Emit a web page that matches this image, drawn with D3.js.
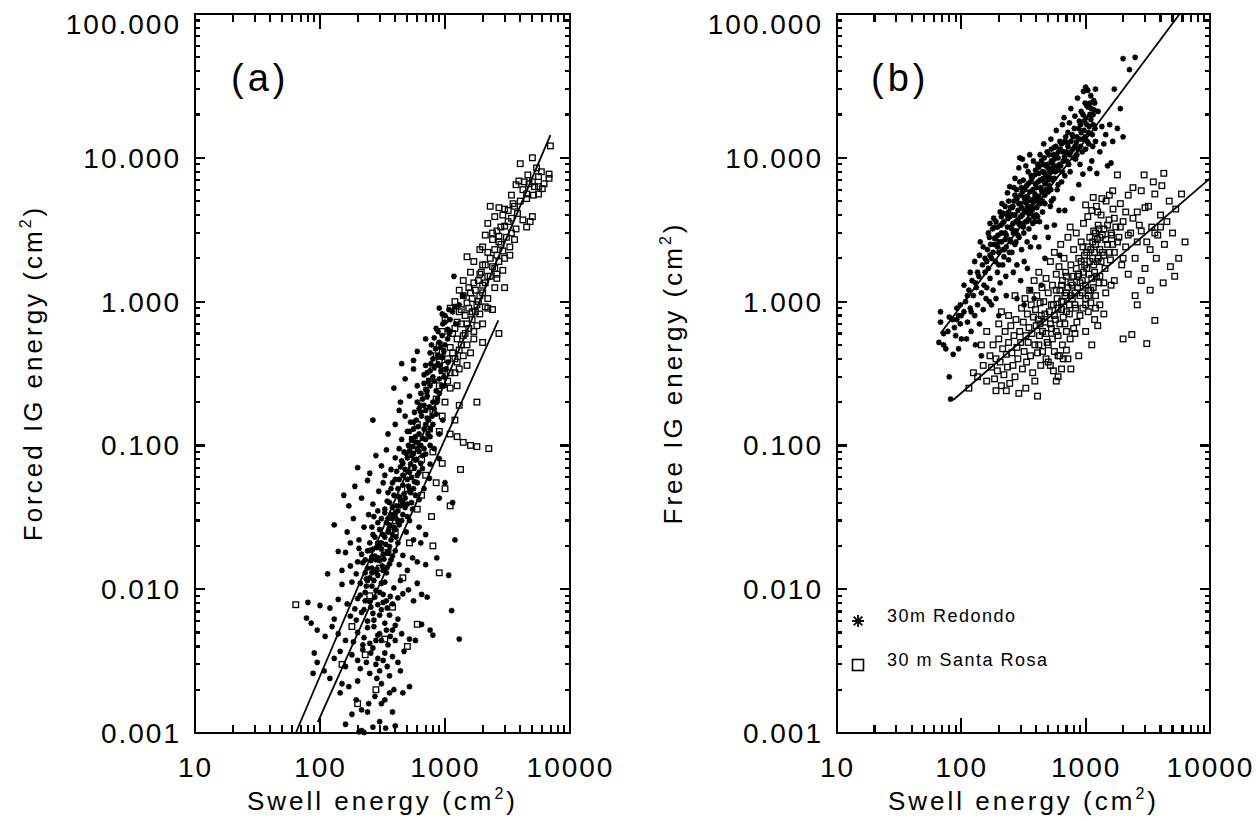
<!DOCTYPE html>
<html>
<head>
<meta charset="utf-8">
<script src="https://cdn.jsdelivr.net/npm/d3@7"></script>
<style>
  body { margin: 0; background: #fff; }
  svg { display: block; }
</style>
</head>
<body>
<svg id="chart" width="1257" height="820"></svg>
<script>
// axis ticks
const xTicks = [10, 100, 1000, 10000];
const yTicks = [0.001, 0.01, 0.1, 1, 10, 100];

// panel (a): forced IG energy vs swell energy
const redondoA = [
  [160,0.00115],[205,0.00102],[215,0.00104],[225,0.00101],[265,0.0011],[300,0.0012],[335,0.00108],[400,0.00112],[180,0.00135],[240,0.0014],[215,0.00145],
  [145,0.0019],[170,0.0021],[195,0.0017],[245,0.0016],[275,0.0018],[310,0.0016],[330,0.0017],[360,0.0019],[390,0.002],[460,0.0019],[200,0.0023],[120,0.0024],[150,0.0022],[285,0.0024],[520,0.0021],
  [88,0.0026],[95,0.0031],[108,0.0027],[130,0.0033],[160,0.0029],[180,0.0035],[210,0.0028],[235,0.0031],[255,0.0036],[280,0.003],[300,0.0027],[320,0.0032],[345,0.0029],[380,0.0034],[420,0.0031],[470,0.0037],[265,0.0039],[220,0.0038],[145,0.0037],[90,0.0036],
  [78,0.0063],[85,0.0058],[95,0.0052],[110,0.0047],[125,0.0055],[140,0.0049],[160,0.0044],[185,0.0043],[200,0.005],[225,0.0046],[250,0.0042],[270,0.0055],[290,0.0048],[310,0.0044],[340,0.0052],[365,0.0047],[400,0.0056],[450,0.0049],[520,0.0045],[580,0.0044],[800,0.0048],[1300,0.0045],[760,0.0052],[650,0.0057],[130,0.0062],[175,0.0065],[215,0.0069],[300,0.0066],[420,0.0062],[240,0.006],
  [80,0.0081],[100,0.0077],[120,0.0074],[140,0.0085],[165,0.0079],[190,0.0073],[210,0.0091],[230,0.0083],[255,0.0075],[275,0.0088],[300,0.0095],[320,0.0081],[345,0.0074],[365,0.0089],[390,0.0102],[420,0.0087],[460,0.0093],[510,0.0099],[560,0.0083],[650,0.0092],[720,0.0088],[1130,0.0071],[260,0.0105],[180,0.0112],[150,0.0108],[235,0.0118],[330,0.0112],[440,0.0115],[600,0.011],[1070,0.0125],
  [230,0.0095],[280,0.0098],[320,0.0092],[200,0.0086],[250,0.0082],[290,0.0078],[340,0.0083],[380,0.0079],[225,0.0072],[265,0.0068],[310,0.0072],[360,0.0066],[195,0.0061],[270,0.0061],[330,0.0058],[380,0.0052],[240,0.0054],[300,0.0049],[350,0.0041],[280,0.0044],[220,0.0041],[400,0.0044],[330,0.0036],[290,0.0033],[250,0.0026],[360,0.0025],[200,0.0032],[440,0.0027],[310,0.0022],[380,0.0014],
  [115,0.0128],[150,0.0135],[175,0.0145],[195,0.0128],[220,0.0153],[240,0.014],[260,0.0168],[280,0.0132],[300,0.0158],[320,0.0175],[345,0.0142],[370,0.016],[400,0.0185],[430,0.0148],[460,0.0172],[500,0.0135],[550,0.0165],[600,0.0155],[700,0.0148],[860,0.0165],[160,0.018],[205,0.0192],[285,0.0195],[360,0.0198],[250,0.0186],[140,0.0183],
  [210,0.011],[235,0.0105],[250,0.012],[270,0.0115],[290,0.0125],[310,0.011],[230,0.013],[260,0.014],[285,0.0138],[315,0.0145],[340,0.013],[200,0.0155],[230,0.016],[255,0.0158],[275,0.017],[295,0.0165],[325,0.0162],[350,0.018],[380,0.017],[215,0.0175],[240,0.0185],[265,0.019],[310,0.019],[335,0.0205],[290,0.021],[250,0.021],[370,0.022],[275,0.023],[320,0.024],[350,0.025],[300,0.026],[390,0.027],[260,0.027],[340,0.029],[420,0.03],[310,0.031],[370,0.033],[290,0.035],
  [130,0.028],[165,0.025],[185,0.031],[205,0.022],[225,0.027],[245,0.033],[265,0.024],[290,0.029],[310,0.021],[330,0.034],[355,0.026],[380,0.031],[405,0.023],[430,0.028],[460,0.033],[490,0.025],[520,0.03],[560,0.022],[620,0.027],[700,0.024],[1200,0.022],[640,0.021],[175,0.021],[270,0.032],[400,0.034],
  [300,0.02],[330,0.023],[360,0.028],[380,0.024],[400,0.026],[420,0.035],[440,0.038],[460,0.04],[480,0.043],[520,0.048],[560,0.05],[600,0.055],[620,0.065],[640,0.075],[660,0.085],[680,0.095],[700,0.11],[730,0.12],[760,0.13],[790,0.16],[820,0.18],[860,0.2],[900,0.23],[940,0.26],[980,0.3],[1020,0.34],[900,0.36],[980,0.45],[1050,0.55],[1100,0.62],[280,0.016],[260,0.013],[240,0.0115],[320,0.0135],[360,0.015],[420,0.021],[500,0.032],[540,0.04],[580,0.045],[760,0.1],
  [155,0.045],[170,0.038],[190,0.052],[215,0.043],[240,0.057],[265,0.039],[295,0.048],[320,0.055],[345,0.041],[370,0.05],[400,0.058],[430,0.044],[460,0.053],[500,0.039],[530,0.047],[570,0.056],[620,0.042],[680,0.05],[900,0.043],[1150,0.04],[1000,0.055],[380,0.037],[550,0.036],[750,0.059],
  [350,0.031],[400,0.032],[450,0.03],[330,0.036],[360,0.04],[410,0.038],[440,0.042],[480,0.037],[350,0.047],[390,0.045],[420,0.05],[470,0.046],[510,0.052],[380,0.055],[430,0.058],[460,0.062],[500,0.058],[540,0.06],[410,0.066],[440,0.071],[480,0.068],[530,0.074],[570,0.07],[450,0.078],[500,0.082],[540,0.085],[590,0.08],[470,0.09],[520,0.092],[560,0.088],[600,0.095],[640,0.1],[510,0.1],[580,0.105],
  [200,0.07],[250,0.064],[280,0.085],[310,0.072],[340,0.093],[370,0.068],[400,0.082],[430,0.095],[460,0.075],[490,0.088],[520,0.065],[550,0.098],[580,0.079],[620,0.091],[660,0.069],[700,0.087],[760,0.074],[820,0.095],[900,0.081],[330,0.062],[600,0.062],
  [265,0.15],[350,0.12],[400,0.14],[450,0.11],[480,0.16],[520,0.125],[560,0.145],[600,0.105],[640,0.17],[680,0.13],[720,0.155],[760,0.115],[800,0.14],[850,0.165],[900,0.12],[960,0.15],[430,0.175],[700,0.175],
  [540,0.11],[580,0.115],[620,0.12],[660,0.112],[500,0.125],[560,0.13],[610,0.135],[700,0.14],[530,0.145],[590,0.15],[650,0.16],[740,0.15],[570,0.17],[620,0.18],[680,0.19],[750,0.185],[600,0.2],[660,0.21],[720,0.22],[800,0.2],[640,0.23],[700,0.245],[760,0.26],[850,0.24],[680,0.27],[740,0.28],[800,0.3],[900,0.29],[720,0.32],
  [390,0.25],[440,0.2],[480,0.29],[520,0.22],[560,0.34],[600,0.26],[640,0.19],[680,0.31],[720,0.24],[770,0.37],[820,0.28],[870,0.21],[930,0.33],[990,0.26],[1060,0.38],[560,0.39],[450,0.37],
  [760,0.33],[820,0.35],[880,0.37],[700,0.36],[800,0.4],[870,0.42],[950,0.41],[760,0.44],[840,0.47],[900,0.52],[1000,0.5],[820,0.56],[950,0.58],[880,0.62],[1050,0.64],[960,0.7],[1100,0.75],[1000,0.8],[1080,0.88],[950,0.82],[1200,0.92],
  [600,0.45],[700,0.55],[780,0.5],[850,0.65],[920,0.48],[1000,0.72],[1080,0.6],[1150,0.85],[1220,0.7],[900,0.9],[1300,0.95],[1180,1.5],[1400,1.1]
];
const santaRosaA = [
  [6970,12.1],[5000,10],[4000,9.1],[5400,8.5],[6800,7.7],[6800,7.2],[5600,7.4],[3900,6.9],[4300,6.8],[4700,6.6],[5200,6.3],[5600,6.3],[6000,6.1],[3700,6.5],
  [5600,5.6],[4500,5.6],[5100,5.5],[2300,4.6],[2700,4.5],[3200,4.3],[3600,4.6],[2500,3.9],[2900,4.0],[3400,3.8],[4200,3.7],[4800,3.6],[4500,3.3],[3700,3.2],[2600,3.1],[3000,3.35],[2200,3.5],[5000,3.9],
  [2100,2.9],[2400,2.7],[2800,2.5],[3300,2.4],[1900,2.3],[2200,2.2],[2600,2.1],[3000,2.0],[1700,1.9],[2000,1.8],[2400,1.75],[2900,1.65],[3300,2.1],[1600,1.6],[1900,1.55],[2200,1.5],[1500,2.05],[2700,2.85],
  [1400,1.4],[1700,1.35],[2000,1.3],[2500,1.25],[1300,1.2],[1600,1.15],[1900,1.1],[2200,1.05],[2600,1.45],[1200,1.0],[1500,0.98],[1800,0.95],[2100,0.92],[1350,0.88],[1650,0.85],[2400,0.88],[1100,0.9],[1900,0.82],[2700,0.6],
  [1000,0.75],[1250,0.72],[1500,0.7],[1800,0.68],[950,0.62],[1150,0.6],[1400,0.58],[1700,0.55],[2000,0.52],[900,0.5],[1100,0.48],[1300,0.46],[1600,0.44],[850,0.42],[1050,0.4],[1250,0.38],[1500,0.36],[800,0.35],[950,0.33],[1200,0.32],[1800,0.2],
  [1100,0.32],[1300,0.34],[1000,0.36],[1200,0.4],[1400,0.42],[1150,0.44],[1350,0.5],[1250,0.55],[1450,0.6],[1550,0.65],[1350,0.7],[1650,0.75],[1450,0.8],[1750,0.85],[1550,0.9],[1850,1.0],[1650,1.05],[1400,1.1],[2000,1.15],[1750,1.2],[1550,1.25],[2100,1.35],[1850,1.4],[2300,1.5],[1950,1.6],[2500,1.7],[2100,1.8],[2700,1.9],[2300,2.0],[2000,2.4],[2500,2.3],[2900,2.25],[2700,2.6],[3100,2.8],[2400,3.0],[3400,3.0],[2800,3.3],[3200,3.6],[3800,4.1],[3000,4.4],[3500,4.8],[4000,5.0],[4500,5.2],[3400,5.5],[4200,6.0],[5000,6.8],[4600,7.6],[6200,6.6],[5900,8.0],[3000,1.25],[2600,1.55],[3600,2.7],[1250,0.26],[1050,0.28],[1500,0.5],[950,0.45],[1700,0.62],[2000,0.7],[2200,0.9],[1300,0.85],[1200,0.65],[900,0.38],
  [750,0.28],[900,0.26],[1100,0.25],[700,0.22],[850,0.21],[1000,0.2],[1300,0.19],[650,0.18],[800,0.17],[950,0.16],[1200,0.15],[600,0.14],[750,0.13],[900,0.125],[1100,0.12],[1400,0.105],[1600,0.1],[1800,0.098],[2240,0.095],[1250,0.115],[550,0.11],
  [1330,0.068],[800,0.09],[650,0.08],[950,0.075],[550,0.07],[700,0.062],[850,0.055],[500,0.05],[650,0.045],[1000,0.05],[450,0.04],[600,0.036],[780,0.032],[400,0.03],[1100,0.038],
  [400,0.025],[520,0.021],[350,0.018],[800,0.02],[300,0.014],[460,0.012],[900,0.013],[250,0.009],[64,0.0078],[380,0.0075],[180,0.0055],[500,0.004],[330,0.0045],[150,0.003],[230,0.0035],[280,0.002],[200,0.0016],[600,0.0057]
];
const fitA1 = [[64,0.001],[6970,14.4]];
const fitA2 = [[96,0.00119],[2670,0.74]];

// panel (b): free IG energy vs swell energy
const redondoB = [
  [68,0.85],[68,0.72],[66,0.52],[72,0.5],[75,0.47],[80,0.3],[82,0.21],[78,0.62],[85,0.75],[88,0.66],[90,0.58],[92,0.9],[95,0.8],[98,0.7],[72,0.6],[86,0.43],[100,0.55],[95,0.47],[80,0.78],[98,0.95],
  [105,0.85],[108,1.0],[112,0.72],[115,1.2],[118,0.9],[120,0.62],[125,1.1],[128,0.8],[130,1.35],[135,0.95],[138,1.5],[140,0.7],[145,1.15],[148,1.8],[150,0.88],[152,1.3],[155,1.6],[158,1.05],[110,0.55],[130,0.5],[145,0.42],[122,1.4],[140,2.1],[160,1.25],
  [162,2.3],[165,1.7],[168,2.8],[170,1.45],[175,2.0],[178,3.2],[180,1.2],[185,2.5],[188,1.9],[190,3.6],[195,1.6],[198,2.9],[200,2.2],[205,1.35],[208,3.4],[210,2.6],[215,1.8],[218,4.1],[220,2.05],[225,3.0],[228,1.5],[230,2.4],[235,5.7],[238,3.8],[240,1.95],[245,2.7],[248,4.5],[250,3.3],[175,0.95],[200,0.8],[190,1.05],[230,1.1],[168,1.0],[212,4.8],[185,2.75],[222,2.3],[244,2.2],[196,2.4],
  [255,2.2],[258,4.0],[262,3.0],[265,5.0],[270,2.5],[275,3.6],[278,6.0],[280,1.8],[285,4.3],[290,8.5],[292,2.8],[295,3.4],[300,5.5],[305,2.3],[310,4.0],[315,7.0],[318,3.0],[320,1.9],[325,5.0],[330,3.6],[335,6.4],[338,2.6],[340,4.6],[345,8.0],[350,3.2],[355,5.8],[360,2.4],[365,4.2],[370,7.2],[375,3.5],[380,9.5],[385,5.2],[390,2.8],[395,6.6],[400,4.0],[262,1.6],[300,1.4],[340,1.7],[280,1.05],[360,1.2],[320,0.95],[385,1.05],[270,7.2],[310,9.8],[330,8.8],[355,10.5],[245,6.3],[295,10],[275,2.6],[350,4.3],[315,3.5],[390,3.6],[305,6.2],
  [150,2.4],[160,1.9],[165,3.0],[172,2.5],[180,2.2],[182,3.8],[190,2.8],[195,3.3],[200,1.8],[205,4.2],[210,3.0],[215,2.3],[220,3.6],[225,4.6],[230,2.9],[235,3.3],[240,5.0],[245,3.9],[250,2.6],[255,4.5],[260,3.5],[265,6.2],[270,4.0],[275,3.1],[280,5.2],[285,3.7],[290,4.8],[295,6.8],[300,3.9],[305,4.5],[310,5.8],[315,3.3],[320,4.3],[325,6.0],[330,4.9],[335,3.6],[340,5.4],[345,6.6],[350,4.1],[360,5.1],[365,7.5],[370,4.6],[375,6.0],[380,3.9],[390,5.6],[395,8.2],[400,6.2],[405,4.5],[415,6.8],[420,5.4],
  [210,3.9],[225,2.7],[240,4.2],[255,3.2],[270,5.5],[285,2.9],[300,4.8],[315,6.0],[330,4.2],[345,5.0],[360,6.8],[375,4.4],[390,7.6],[405,5.4],[420,8.6],[435,6.2],[450,5.0],[465,7.9],[480,6.0],[495,9.0],[510,7.4],[525,6.0],[540,9.2],[560,7.2],[580,10.5],[600,8.2],[625,11.5],[650,8.0],[675,10.2],[700,12.8],[730,9.0],[760,11.0],[790,14.0],[820,12.0],[850,10.5],[880,13.5],[910,17.0],[940,11.0],[970,15.5],[1000,19.0],[1030,13.0],[1070,16.5],[1110,22.0],[1150,20.0],[1190,16.0],[235,4.0],[260,4.6],[290,3.5],[320,5.3],[350,3.7],[380,4.9],[410,3.9],[440,7.0],[470,4.8],[500,5.8],[530,8.0],[170,2.1],[185,3.3],[200,2.6],[215,3.5],
  [430,7.0],[440,9.5],[445,5.8],[455,7.2],[465,10.0],[470,6.6],[480,8.8],[495,7.0],[505,10.5],[515,8.0],[530,11.5],[545,8.5],[560,9.8],[575,12.0],[590,8.8],[605,11.0],[620,9.0],[640,12.5],[660,9.5],[680,13.0],[700,11.0],[720,15.0],[740,10.5],[760,13.0],[790,11.5],[810,16.0],[830,9.8],[850,14.0],[870,11.5],[890,18.0],[920,15.0],[950,20.0],[990,14.0],[1020,17.0],[1060,12.5],[1100,18.5],[1130,14.5],[1160,25.0],[1080,24.0],[990,24.0],
  [128,1.9],[135,1.6],[142,2.6],[118,1.6],[105,1.3],[112,1.1],[100,0.8],[92,0.75],[120,0.85],[132,1.25],[155,2.0],[170,3.5],
  [410,5.0],[420,7.8],[425,3.6],[430,10.5],[440,6.0],[450,4.2],[455,9.0],[460,12.5],[470,5.5],[480,7.5],[485,3.3],[490,11.0],[500,8.5],[510,6.4],[520,4.6],[525,13.5],[530,9.5],[540,7.0],[550,5.2],[560,11.8],[570,8.0],[580,15.5],[590,6.0],[600,10.0],[610,4.3],[620,13.0],[630,8.8],[640,6.8],[650,17.0],[660,11.0],[670,19.0],[680,7.5],[690,14.0],[700,9.5],[420,2.4],[500,2.8],[470,2.0],[440,1.3],[560,3.4],[620,2.1],[430,4.8],[530,5.0],[600,6.5],[680,4.3],[450,8.0],[410,9.0],[550,10.5],
  [720,12.0],[740,17.5],[750,8.0],[760,22.0],[780,14.5],[800,10.0],[820,19.5],[840,12.8],[860,26.0],[880,16.0],[900,9.0],[920,21.0],[940,13.5],[960,29.0],[980,18.0],[1000,31.0],[1000,11.5],[1020,23.0],[1050,15.0],[1080,20.0],[1100,27.0],[1120,9.5],[1150,17.0],[1180,24.0],[1200,13.0],[1230,7.8],[1260,21.0],[1300,11.0],[1080,8.4],[950,7.7],[1140,12.0],[1200,30.0],[880,6.5],[1050,22.5],[780,5.2],[1040,29.5],[1170,21.5],[910,12.0],
  [1350,16.5],[1400,12.5],[1450,14.5],[1500,8.8],[1560,17.0],[1650,13.0],[1700,30.0],[1800,16.0],[2000,49.0],[2500,50.0],[2250,41.0],[2000,14.0],[1900,22.0],[1600,9.2]
];
const santaRosaB = [
  [115,0.25],[125,0.32],[135,0.3],[150,0.36],[160,0.28],[170,0.42],[175,0.35],[180,0.5],[185,0.29],[190,0.4],[195,0.33],[200,0.55],[205,0.38],[210,0.26],[215,0.47],[220,0.31],[225,0.62],[230,0.43],[235,0.35],[240,0.52],[245,0.27],[250,0.68],[160,0.62],[200,0.7],[190,0.24],[230,0.24],[240,0.8],[145,0.5],[210,0.85],
  [255,0.44],[260,0.36],[265,0.58],[270,0.3],[275,0.75],[280,0.48],[285,0.4],[290,0.23],[295,0.62],[300,0.52],[305,0.9],[310,0.34],[315,0.72],[320,0.45],[325,1.05],[330,0.58],[335,0.38],[340,0.82],[345,0.52],[350,0.66],[355,1.2],[360,0.42],[365,0.95],[370,0.6],[375,0.32],[380,0.78],[385,1.4],[390,0.5],[395,0.88],[400,0.68],[405,1.1],[410,0.44],[415,0.75],[420,1.6],[425,0.58],[430,0.98],[435,0.36],[440,0.8],[445,1.25],[450,0.62],[330,0.25],[410,0.22],[390,0.28],[270,1.1],
  [420,0.5],[450,0.45],[480,0.6],[500,0.5],[520,0.7],[540,0.55],[560,0.8],[580,0.62],[600,0.9],[620,0.7],[640,1.0],[660,0.78],[680,1.1],[700,0.85],[720,1.25],[740,0.95],[760,1.35],[780,1.05],[800,1.5],[820,1.15],[840,1.7],[860,1.25],[880,1.55],[900,1.35],[920,1.9],[940,1.15],[960,1.6],[980,2.1],[1000,1.3],[1020,1.7],[1040,2.4],[1060,1.2],[1080,1.9],[1100,2.3],[1120,1.45],[1140,2.6],[1160,1.8],[1180,2.2],[1200,3.0],[1220,1.5],[1240,2.7],[1260,2.0],[1280,3.2],[1300,2.3],[1330,1.9],[1360,2.9],[1400,2.1],[1450,2.7],[1500,3.4],[1550,2.2],[1600,3.0],[1650,2.5],[1700,3.8],[1800,2.6],[1900,3.3],[2000,2.0],[2100,4.2],[2200,2.9],[2400,3.8],[2600,2.6],[2800,3.1],[3000,4.5],[3300,2.3],[3600,3.0],[4000,3.3],
  [500,0.38],[550,0.33],[600,0.42],[650,0.5],[700,0.46],[750,0.55],[800,0.65],[850,0.72],[900,0.8],[950,0.9],[1000,0.95],[1050,1.1],[1100,0.98],[1150,1.25],[1200,1.1],[430,0.7],[470,0.82],[530,0.95],[580,1.2],[640,1.3],[700,1.5],[760,1.1],[830,0.9],[1300,1.5],[1400,1.35],
  [460,1.0],[470,0.72],[480,1.45],[490,0.52],[500,1.15],[510,0.85],[520,1.9],[530,0.65],[540,1.3],[550,0.95],[560,2.2],[570,0.75],[580,1.55],[590,1.05],[600,0.58],[610,1.75],[620,1.2],[630,2.5],[640,0.88],[650,1.4],[660,1.0],[670,2.0],[680,0.7],[690,1.6],[700,1.15],[720,2.8],[740,0.82],[760,1.8],[780,1.3],[800,2.3],[820,0.95],[840,3.0],[860,1.5],[880,2.0],[900,1.1],[480,0.4],[560,0.45],[620,0.42],[640,0.34],[720,0.4],[760,0.34],[880,0.42],[700,0.62],[820,0.6],[750,3.3],[520,0.36],[600,0.3],[660,0.4],[580,0.28],
  [920,2.6],[940,1.4],[960,3.5],[980,1.8],[1000,1.05],[1020,2.2],[1040,3.9],[1060,1.55],[1080,2.8],[1100,1.2],[1120,4.3],[1140,2.0],[1160,3.1],[1180,1.6],[1200,2.5],[1220,4.6],[1240,1.9],[1260,3.4],[1280,1.35],[1300,2.8],[1330,4.0],[1360,2.2],[1400,3.2],[1430,1.7],[1460,5.0],[1500,2.5],[1540,3.7],[1580,1.95],[1620,2.9],[1660,4.4],[1700,2.2],[1750,3.3],[1800,7.6],[1000,0.62],[1050,0.85],[1120,0.5],[1200,0.9],[1300,0.95],[1400,0.82],[1250,0.68],[1180,0.75],[1600,1.3],[1450,1.15],[1700,1.4],[1550,5.5],[1350,5.2],[1650,5.9],[1150,5.3],[1250,4.2],[950,2.4],[1000,4.7],
  [1850,2.8],[1900,4.8],[1950,1.8],[2000,3.6],[2100,2.4],[2200,5.5],[2300,3.0],[2400,6.2],[2500,2.0],[2600,4.2],[2700,3.4],[2800,5.9],[2950,7.6],[3100,2.6],[3200,4.6],[3400,3.3],[3600,5.6],[3800,2.9],[4000,4.0],[4250,7.8],[4500,3.6],[4700,5.0],[5000,3.0],[5300,4.4],[5900,5.6],[6300,2.6],[5600,2.0],[3600,0.74],[2350,0.59],[3100,0.51],[2800,1.4],[3300,1.2],[2500,1.1],[4200,1.35],[4800,1.75],[5200,1.5],[3700,2.0],[3000,1.7],[2200,1.55],[4300,2.5],[4100,6.4],[3500,6.8],[2000,0.55],[2600,0.95]
];
const fitB1 = [[68,0.6],[5700,100]];
const fitB2 = [[86,0.207],[10000,7.2]];

const legendLabels = ["30m Redondo", "30 m Santa Rosa"];

const FONT = "'Liberation Sans', Arial, Helvetica, sans-serif";
const svg = d3.select("#chart");
const plotTop = 14, plotBottom = 733;

// IDL-style asterisk (plus + cross)
const asterisk = (s) => {
  const d = s * 0.72;
  return `M0,${-s}V${s}M${-s},0H${s}M${-d},${-d}L${d},${d}M${-d},${d}L${d},${-d}`;
};
const isDecade = v => Math.abs(Math.log10(v) - Math.round(Math.log10(v))) < 1e-6;

const drawPanel = (p) => {
  const x = d3.scaleLog().domain([10, 10000]).range([p.left, p.right]);
  const y = d3.scaleLog().domain([0.001, 100]).range([plotBottom, plotTop]);
  const g = svg.append("g");

  // tick labels
  const bx = g.append("g")
    .attr("transform", `translate(0,${plotBottom})`)
    .call(d3.axisBottom(x).tickValues(xTicks).tickSize(0).tickPadding(24).tickFormat(d3.format("d")));
  bx.select(".domain").remove();
  bx.selectAll("text").attr("font-family", FONT).attr("font-size", 28).attr("letter-spacing", 2).attr("fill", "#000");

  const ly = g.append("g")
    .attr("transform", `translate(${p.left},0)`)
    .call(d3.axisLeft(y).tickValues(yTicks).tickSize(0).tickPadding(14).tickFormat(d3.format(".3f")));
  ly.select(".domain").remove();
  ly.selectAll("text").attr("font-family", FONT).attr("font-size", 28).attr("letter-spacing", 2).attr("fill", "#000")
    .attr("dy", d => d === 100 ? "0.68em" : "0.34em");

  // frame
  g.append("rect")
    .attr("x", p.left).attr("y", plotTop)
    .attr("width", p.right - p.left).attr("height", plotBottom - plotTop)
    .attr("fill", "none").attr("stroke", "#000").attr("stroke-width", 2);

  // points
  g.append("g").selectAll("path")
    .data(p.redondo)
    .join("path")
    .attr("transform", d => `translate(${x(d[0])},${y(d[1])})`)
    .attr("d", asterisk(2.9))
    .attr("stroke", "#000").attr("stroke-width", 1.6).attr("fill", "none");

  g.append("g").selectAll("rect")
    .data(p.santaRosa)
    .join("rect")
    .attr("x", d => x(d[0]) - 2.8).attr("y", d => y(d[1]) - 2.8)
    .attr("width", 5.6).attr("height", 5.6)
    .attr("stroke", "#000").attr("stroke-width", 1.3).attr("fill", "none");

  // fit lines
  const line = d3.line().x(d => x(d[0])).y(d => y(d[1]));
  p.fits.forEach(f => {
    g.append("path").attr("d", line(f)).attr("stroke", "#000").attr("stroke-width", 1.8).attr("fill", "none");
  });

  // inward ticks on all four sides
  const minorX = x.ticks().filter(v => !isDecade(v));
  const minorY = y.ticks().filter(v => !isDecade(v));
  const xTickRows = [];
  [[xTicks, 15], [minorX, 8]].forEach(([vals, len]) => {
    vals.forEach(v => {
      xTickRows.push({ px: x(v), y1: plotBottom, y2: plotBottom - len });
      xTickRows.push({ px: x(v), y1: plotTop, y2: plotTop + len });
    });
  });
  const yTickRows = [];
  [[yTicks, 10], [minorY, 5]].forEach(([vals, len]) => {
    vals.forEach(v => {
      yTickRows.push({ py: y(v), x1: p.left, x2: p.left + len });
      yTickRows.push({ py: y(v), x1: p.right, x2: p.right - len });
    });
  });
  const tickG = g.append("g").attr("shape-rendering", "crispEdges");
  tickG.selectAll(".xt")
    .data(xTickRows)
    .join("line")
    .attr("class", "xt")
    .attr("x1", d => d.px).attr("x2", d => d.px)
    .attr("y1", d => d.y1).attr("y2", d => d.y2)
    .style("stroke", "#000").style("stroke-width", "2.2px");
  tickG.selectAll(".yt")
    .data(yTickRows)
    .join("line")
    .attr("class", "yt")
    .attr("y1", d => d.py).attr("y2", d => d.py)
    .attr("x1", d => d.x1).attr("x2", d => d.x2)
    .style("stroke", "#000").style("stroke-width", "2.2px");

  // panel label
  g.append("text")
    .attr("x", p.labelX).attr("y", 91)
    .attr("font-family", FONT).attr("font-size", 38).attr("letter-spacing", 4)
    .text(p.label);

  // x title
  const xt = g.append("text")
    .attr("x", (p.left + p.right) / 2).attr("y", 810)
    .attr("text-anchor", "middle")
    .attr("font-family", FONT).attr("font-size", 26).attr("letter-spacing", 3);
  xt.append("tspan").text("Swell energy (cm");
  xt.append("tspan").attr("font-size", 16).attr("dy", -11).text("2");
  xt.append("tspan").attr("dy", 11).text(")");

  // y title
  const yt = g.append("text")
    .attr("transform", `translate(${p.titleX},373) rotate(-90)`)
    .attr("text-anchor", "middle")
    .attr("font-family", FONT).attr("font-size", 26).attr("letter-spacing", 3);
  yt.append("tspan").text(`${p.yTitle} (cm`);
  yt.append("tspan").attr("font-size", 16).attr("dy", -11).text("2");
  yt.append("tspan").attr("dy", 11).text(")");

  if (p.legend) {
    const lg = g.append("g").attr("font-family", FONT).attr("font-size", 18).attr("letter-spacing", 1.5);
    lg.append("path")
      .attr("transform", "translate(858,621)")
      .attr("d", asterisk(6))
      .attr("stroke", "#000").attr("stroke-width", 1.8).attr("fill", "none");
    lg.append("rect")
      .attr("x", 852.5).attr("y", 659.5).attr("width", 11).attr("height", 11)
      .attr("stroke", "#000").attr("stroke-width", 1.6).attr("fill", "none");
    lg.selectAll("text")
      .data(legendLabels)
      .join("text")
      .attr("x", 887).attr("y", (d, i) => 622 + i * 44)
      .text(d => d);
  }
};

drawPanel({
  left: 195, right: 570, label: "(a)", labelX: 231, titleX: 42,
  yTitle: "Forced IG energy",
  redondo: redondoA, santaRosa: santaRosaA, fits: [fitA1, fitA2], legend: false
});

drawPanel({
  left: 837, right: 1210, label: "(b)", labelX: 871, titleX: 682,
  yTitle: "Free IG energy",
  redondo: redondoB, santaRosa: santaRosaB, fits: [fitB1, fitB2], legend: true
});
</script>
</body>
</html>
